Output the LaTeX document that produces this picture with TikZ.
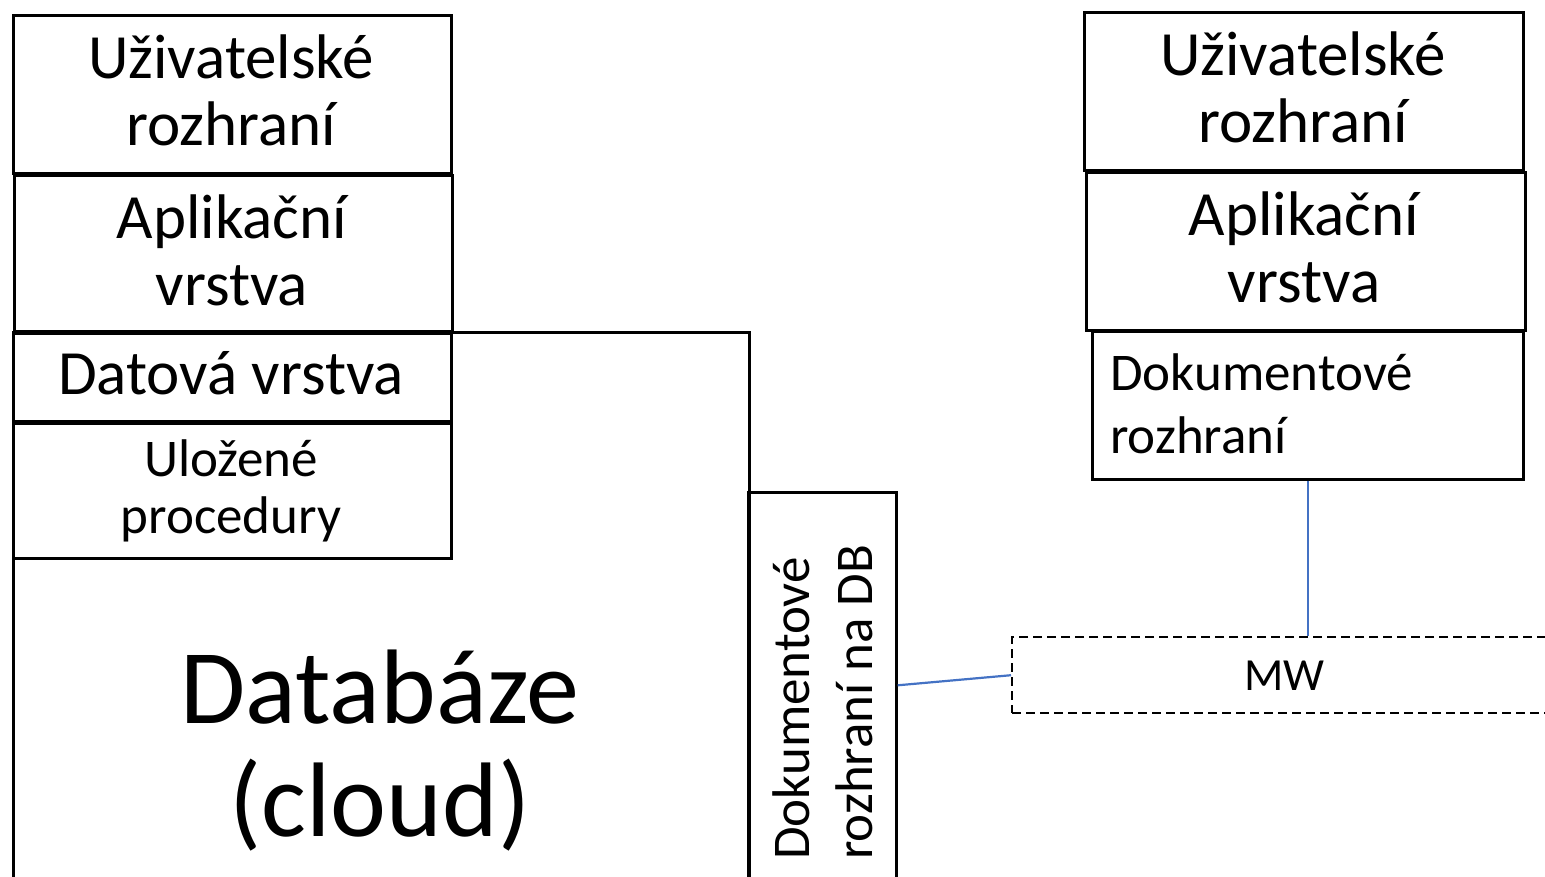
\documentclass[tikz,border=0pt]{standalone}
\usepackage{fontspec}
\setmainfont{Carlito}
\definecolor{linkblue}{HTML}{4472C4}
\begin{document}
\begin{tikzpicture}[x=1pt,y=-1pt,
  box/.style={draw=black, line width=2.6pt, inner sep=0pt, anchor=north west},
  dbox/.style={draw=black, line width=2.4pt, inner sep=0pt, anchor=north west, dash pattern=on 9pt off 5pt},
  big/.style={inner sep=0pt, align=center, anchor=base, font=\fontsize{63}{67}\selectfont},
  mid/.style={inner sep=0pt, align=center, anchor=base, font=\fontsize{53}{57}\selectfont},
  doc/.style={inner sep=0pt, align=left, anchor=base west, font=\fontsize{53}{63}\selectfont},
  huge/.style={inner sep=0pt, align=center, anchor=base, font=\fontsize{106}{113}\selectfont},
  link/.style={draw=linkblue, line width=2.2pt}]
\useasboundingbox (0,0) rectangle (1545,876);
\clip (0,0) rectangle (1545,876);
% left column
\node[box, minimum width=736, minimum height=700] (db) at (12,331) {};
\node[box, minimum width=438, minimum height=158] (ui) at (12,14) {};
\node[box, minimum width=438, minimum height=156] (app) at (13,174) {};
\node[box, minimum width=438, minimum height=88] (data) at (12,332) {};
\node[box, minimum width=438, minimum height=135] (proc) at (12,422) {};
\node[box, minimum width=148, minimum height=386] (dbi) at (747,491) {};
% right column
\node[box, minimum width=439, minimum height=158] (rui) at (1083,11) {};
\node[box, minimum width=439, minimum height=158] (rapp) at (1085,171) {};
\node[box, minimum width=431, minimum height=148] (rdoc) at (1091,330) {};
\node[dbox, minimum width=544, minimum height=76] (mw) at (1011,636) {};
% texts (anchored at the baseline of the last line)
\node[big] (tui) at (231,145) {Uživatelské\\rozhraní};
\node[big] (tapp) at (232,305) {Aplikační\\vrstva};
\node[big] (tdata) at (231,394) {Datová vrstva};
\node[mid] (tproc) at (231,533) {Uložené\\procedury};
\node[huge] (tdb) at (380,836) {Databáze\\(cloud)};
\node[doc, rotate=90] (tdbi) at (872,860) {Dokumentové\\rozhraní na DB};
\node[big] (trui) at (1303,142) {Uživatelské\\rozhraní};
\node[big] (trapp) at (1304,302) {Aplikační\\vrstva};
\node[doc] (trdoc) at (1110,453) {Dokumentové\\rozhraní};
\node[inner sep=0pt, anchor=base, font=\fontsize{46}{55}\selectfont] (tmw) at (mw.center |- 0,690) {MW};
% connectors
\draw[link] (dbi.east) -- (mw.west);
\draw[link] (rdoc.south) -- (rdoc.south |- mw.north);
\end{tikzpicture}
\end{document}
